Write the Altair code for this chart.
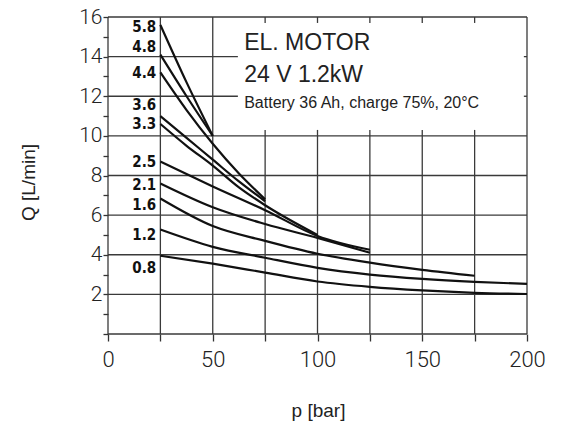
import altair as alt
import pandas as pd

# ---- curve data (p [bar], Q [L/min]) ----
c58_p = [25, 37.5, 50]
c58_q = [15.6, 12.7, 10.0]
c48_p = [25, 37.5, 50]
c48_q = [14.1, 12.0, 10.0]
c44_p = [25, 37.5, 50, 62.5, 75]
c44_q = [13.2, 11.3, 9.6, 8.1, 6.8]
c36_p = [25, 37.5, 50, 62.5, 75]
c36_q = [11.0, 9.9, 8.8, 7.7, 6.7]
c33_p = [25, 37.5, 50, 62.5, 75, 100]
c33_q = [10.6, 9.5, 8.5, 7.4, 6.5, 5.0]
c25_p = [25, 50, 75, 100, 125]
c25_q = [8.7, 7.45, 6.25, 4.95, 4.25]
c21_p = [25, 50, 75, 100, 125]
c21_q = [7.6, 6.4, 5.55, 4.85, 4.1]
c16_p = [25, 50, 75, 100, 125, 150, 175]
c16_q = [6.84, 5.45, 4.7, 4.05, 3.6, 3.24, 2.94]
c12_p = [25, 50, 75, 100, 125, 150, 175, 200]
c12_q = [5.27, 4.4, 3.85, 3.34, 3.0, 2.78, 2.63, 2.53]
c08_p = [25, 50, 75, 100, 125, 150, 175, 200]
c08_q = [3.95, 3.55, 3.1, 2.65, 2.38, 2.2, 2.08, 2.02]

curves = {
    "5.8": (c58_p, c58_q), "4.8": (c48_p, c48_q), "4.4": (c44_p, c44_q),
    "3.6": (c36_p, c36_q), "3.3": (c33_p, c33_q), "2.5": (c25_p, c25_q),
    "2.1": (c21_p, c21_q), "1.6": (c16_p, c16_q), "1.2": (c12_p, c12_q),
    "0.8": (c08_p, c08_q),
}

# curve labels and their vertical positions (Q units), placed left of p=25
label_text = ["5.8", "4.8", "4.4", "3.6", "3.3", "2.5", "2.1", "1.6", "1.2", "0.8"]
label_q = [15.5, 14.5, 13.15, 11.55, 10.6, 8.7, 7.5, 6.5, 5.0, 3.35]
label_p = 23

# annotation box text
note_text = ["EL. MOTOR", "24 V 1.2kW", "Battery 36 Ah, charge 75%, 20°C"]
note_q = [14.7, 13.05, 11.65]
note_size = [23, 23, 16]
note_p = 65

# axis tick values
x_ticks = [0, 25, 50, 75, 100, 125, 150, 175, 200]
y_ticks = list(range(0, 17))

# grid segments
h_full = [0, 2, 4, 6, 8, 10, 16]
h_part = [12, 14]
v_full = [0, 25, 50, 200]
v_part = [75, 100, 125, 150, 175]
box_left = 62

rows = []
for name, (ps, qs) in curves.items():
    for i, (p, q) in enumerate(zip(ps, qs)):
        rows.append({"curve": name, "p": p, "q": q, "o": i})
df_curves = pd.DataFrame(rows)

grid_rows = []
for y in h_full:
    grid_rows.append({"x": 0, "x2": 200, "y": y, "y2": y})
for y in h_part:
    grid_rows.append({"x": 0, "x2": box_left, "y": y, "y2": y})
for x in v_full:
    grid_rows.append({"x": x, "x2": x, "y": 0, "y2": 16})
for x in v_part:
    grid_rows.append({"x": x, "x2": x, "y": 0, "y2": 10})
# small ticks along the box edges
for x in v_part:
    grid_rows.append({"x": x, "x2": x, "y": 16, "y2": 15.7})
    grid_rows.append({"x": x, "x2": x, "y": 10, "y2": 10.3})
for y in h_part:
    grid_rows.append({"x": 200, "x2": 198.5, "y": y, "y2": y})
df_grid = pd.DataFrame(grid_rows)

df_labels = pd.DataFrame({"t": label_text, "q": label_q, "p": [label_p] * len(label_text)})
df_notes = pd.DataFrame({"t": note_text, "q": note_q, "s": note_size, "p": [note_p] * 3})

xs = alt.Scale(domain=[0, 200], nice=False, zero=False)
ys = alt.Scale(domain=[0, 16], nice=False, zero=False)

tick_font = "Roboto"

x_axis = alt.Axis(
    values=x_ticks,
    labelExpr="datum.value % 50 == 0 ? datum.label : ''",
    labelOverlap=False, labelBound=False, labelFlush=False,
    grid=False, domain=False, tickSize=7, tickColor="#333", tickWidth=1.3,
    labelFont=tick_font, labelFontWeight=300, labelFontSize=22, labelColor="#222",
    labelPadding=8,
    title="p [bar]", titleFont="Liberation Sans", titleFontSize=19, titleFontWeight="normal",
    titleColor="#222", titleX=210, titleY=76, titleBaseline="middle",
)
y_axis = alt.Axis(
    values=y_ticks,
    labelExpr="datum.value % 2 == 0 && datum.value > 0 ? datum.label : ''",
    labelOverlap=False, labelBound=False, labelFlush=False,
    grid=False, domain=False, tickSize=5, tickColor="#333", tickWidth=1.3,
    labelFont=tick_font, labelFontWeight=300, labelFontSize=21, labelColor="#222",
    labelPadding=1,
    title="Q [L/min]", titleFont="Liberation Sans", titleFontSize=19, titleFontWeight="normal",
    titleColor="#222", titleX=-80, titleY=165, titleBaseline="middle", titleAlign="center",
    titleAngle=-90,
)

grid = alt.Chart(df_grid).mark_rule(color="#3a3a3a", strokeWidth=1.3).encode(
    x=alt.X("x:Q", scale=xs, axis=x_axis),
    x2="x2:Q",
    y=alt.Y("y:Q", scale=ys, axis=y_axis),
    y2="y2:Q",
)

lines = alt.Chart(df_curves).mark_line(color="#111", strokeWidth=2.2, interpolate="monotone").encode(
    x=alt.X("p:Q", scale=xs, axis=x_axis),
    y=alt.Y("q:Q", scale=ys, axis=y_axis),
    detail="curve:N",
    order="o:Q",
)

labels = alt.Chart(df_labels).mark_text(
    font="DejaVu Sans Condensed", fontWeight="bold", fontSize=15, align="right",
    baseline="middle", color="#111",
).encode(x=alt.X("p:Q", scale=xs, axis=x_axis), y=alt.Y("q:Q", scale=ys, axis=y_axis), text="t:N")

notes = alt.Chart(df_notes).mark_text(
    font="Liberation Sans", align="left", baseline="middle", color="#222",
).encode(
    x=alt.X("p:Q", scale=xs, axis=x_axis), y=alt.Y("q:Q", scale=ys, axis=y_axis), text="t:N",
    size=alt.Size("s:Q", scale=None, legend=None),
)

chart = alt.layer(grid, lines, labels, notes).properties(
    width=419, height=317,
    autosize=alt.AutoSizeParams(type="none"),
    padding={"left": 100, "top": 9, "right": 36, "bottom": 92},
).configure_view(stroke=None).configure_axis(labelOverlap=False)

chart.save("out.html", embed_options={"renderer": "svg", "actions": False})
